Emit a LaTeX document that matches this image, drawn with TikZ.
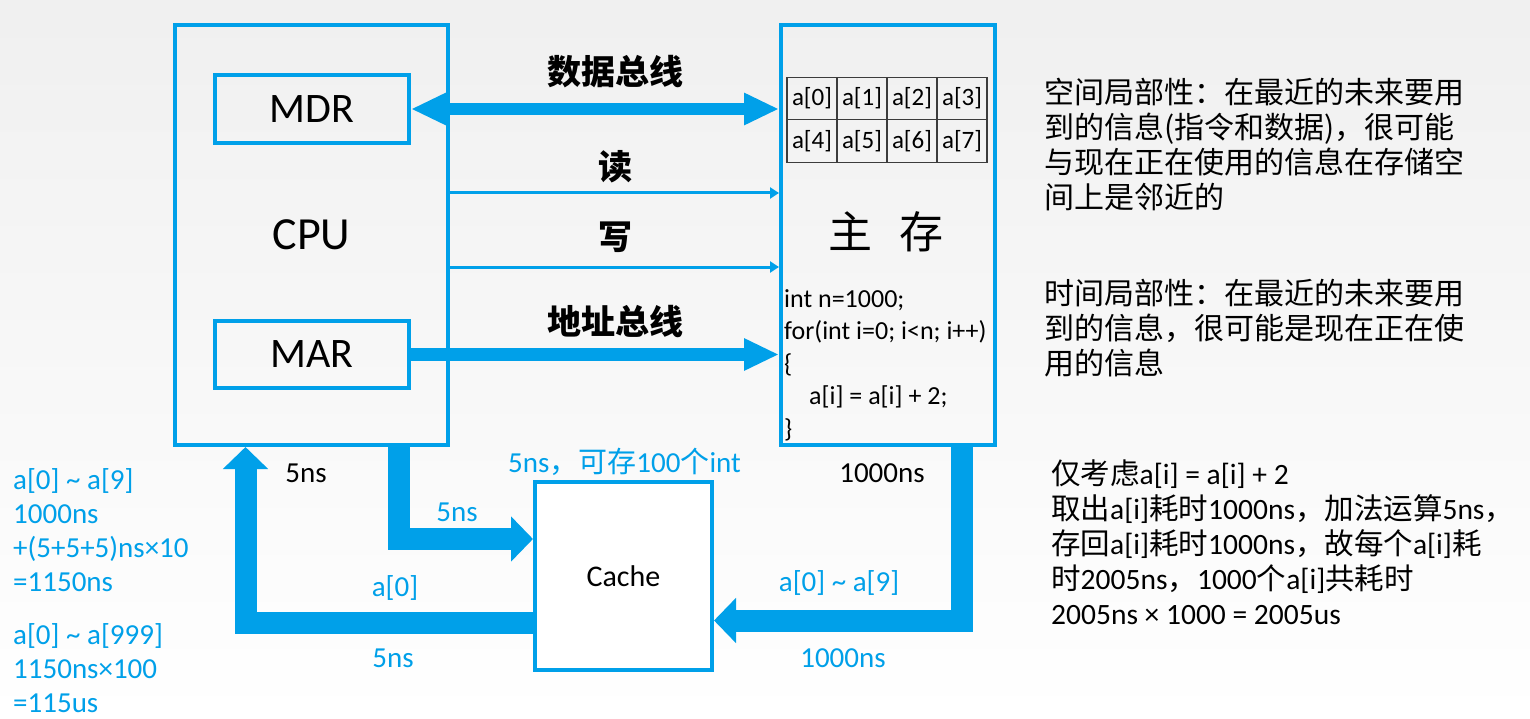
\documentclass[tikz,border=0pt]{standalone}
\usepackage{fontspec}
\setmainfont{Carlito}
\newfontfamily\cjk{Noto Sans CJK SC}
\usetikzlibrary{arrows.meta,positioning}
\definecolor{cblue}{RGB}{0,160,233}
\definecolor{cgrid}{RGB}{60,60,60}
\newcommand{\zh}[1]{{\cjk #1}}

\begin{document}
\begin{tikzpicture}[x=1pt,y=-1pt,
    unit/.style={draw=cblue,line width=4pt,inner sep=0pt},
    cell/.style={draw=cgrid,line width=1.2pt,minimum width=50pt,minimum height=42.5pt,
                 inner sep=0pt,font=\fontsize{25}{30}\selectfont},
    bus/.style={->,>={Triangle[width=30pt,length=35pt]},line width=12.5pt,cblue},
    ctl/.style={-{Triangle[width=11pt,length=9pt]},line width=3pt,cblue},
    fat/.style={-{Triangle[width=44pt,length=22pt]},line width=22pt,cblue},
    buslbl/.style={font=\cjk\fontsize{34}{40}\selectfont\bfseries,inner sep=0pt},
    note/.style={font=\fontsize{29}{34}\selectfont,text=cblue,inner sep=0pt},
    desc/.style={font=\cjk\fontsize{30}{35}\selectfont,align=left,inner sep=0pt,anchor=west}
  ]
    \useasboundingbox (0,0) rectangle (1530,719);
    \fill[top color=black!6,bottom color=white] (0,0) rectangle (1530,719);

    % CPU and main memory
    \node[unit,minimum width=273pt,minimum height=420pt,font=\fontsize{46}{50}\selectfont] (cpu) at (311.5,235) {CPU};
    \node[unit,minimum width=194pt,minimum height=68pt,font=\fontsize{42}{46}\selectfont] (mdr) at (312,109) {MDR};
    \node[unit,minimum width=194pt,minimum height=67pt,font=\fontsize{42}{46}\selectfont] (mar) at (312,354.5) {MAR};
    \node[unit,minimum width=214pt,minimum height=420pt] (mm) at (888,235) {};

    \foreach \i in {0,...,7}{
      \pgfmathtruncatemacro\col{mod(\i,4)}
      \pgfmathtruncatemacro\row{div(\i,4)}
      \node[cell] (a\i) at (812+50*\col,98.5+42.5*\row) {a[\i]};
    }
    \node[font=\cjk\fontsize{44}{48}\selectfont,inner sep=0pt] (mmname) at (886,232) {主\hspace{28pt}存};
    \node[font=\fontsize{26}{32.5}\selectfont,align=left,inner sep=0pt,anchor=west] (prog) at (784,365)
      {int n=1000;\\for(int i=0; i<n; i++)\\\{\\\hspace*{25pt}a[i] = a[i] + 2;\\\}};

    % buses
    \draw[bus,<->] (mdr.east) -- (mdr.east -| mm.west);
    \draw[ctl] ([yshift=42pt]cpu.east) -- ([yshift=42pt]cpu.east -| mm.west);
    \draw[ctl] ([yshift=-32pt]cpu.east) -- ([yshift=-32pt]cpu.east -| mm.west);
    \draw[bus] (mar.east) -- (mar.east -| mm.west);
    \node[buslbl] (dlbl) at (615,72) {数据总线};
    \node[buslbl] (rlbl) at (615,167) {读};
    \node[buslbl] (wlbl) at (615,237) {写};
    \node[buslbl] (albl) at (615,322) {地址总线};

    % cache path
    \node[unit,fill=white,minimum width=177pt,minimum height=188pt,font=\fontsize{30}{34}\selectfont] (cache) at (623.5,576) {Cache};
    \draw[fat] ([xshift=87pt]cpu.south) |- ([yshift=37pt]cache.west);
    \draw[fat] ([yshift=-47pt]cache.west) -| ([xshift=-66pt]cpu.south);
    \draw[fat] ([xshift=73.5pt]mm.south) |- ([yshift=-44.5pt]cache.east);

    \node[note,text=black] (tcpu) at (306,473) {5ns};
    \node[note] (tin) at (457,512) {5ns};
    \node[note] (tcache) at (624.5,462) {5ns\zh{，可存}100\zh{个}int};
    \node[note] (tret) at (395,588) {a[0]};
    \node[note] (tretns) at (393,658) {5ns};
    \node[note,text=black] (tmm) at (882,473) {1000ns};
    \node[note] (tblk) at (839,583) {a[0] \textasciitilde{} a[9]};
    \node[note] (tblkns) at (843,658) {1000ns};

    \node[note,align=left,anchor=west] (calc1) at (13,530.5)
      {a[0] \textasciitilde{} a[9]\\1000ns\\+(5+5+5)ns×10\\=1150ns};
    \node[note,align=left,anchor=west] (calc2) at (13,668)
      {a[0] \textasciitilde{} a[999]\\1150ns×100\\=115us};

    % notes on the right
    \node[desc] (spatial) at (1044,144.5)
      {空间局部性：在最近的未来要用\\到的信息(指令和数据)，很可能\\与现在正在使用的信息在存储空\\间上是邻近的};
    \node[desc] (temporal) at (1044,328.5)
      {时间局部性：在最近的未来要用\\到的信息，很可能是现在正在使\\用的信息};
    \node[desc,font=\fontsize{29.5}{35}\selectfont] (cost) at (1051,542)
      {\zh{仅考虑}a[i] = a[i] + 2\\
       \zh{取出}a[i]\zh{耗时}1000ns\zh{，加法运算}5ns\zh{，}\\
       \zh{存回}a[i]\zh{耗时}1000ns\zh{，故每个}a[i]\zh{耗}\\
       \zh{时}2005ns\zh{，}1000\zh{个}a[i]\zh{共耗时}\\
       2005ns × 1000 = 2005us};
\end{tikzpicture}
\end{document}
